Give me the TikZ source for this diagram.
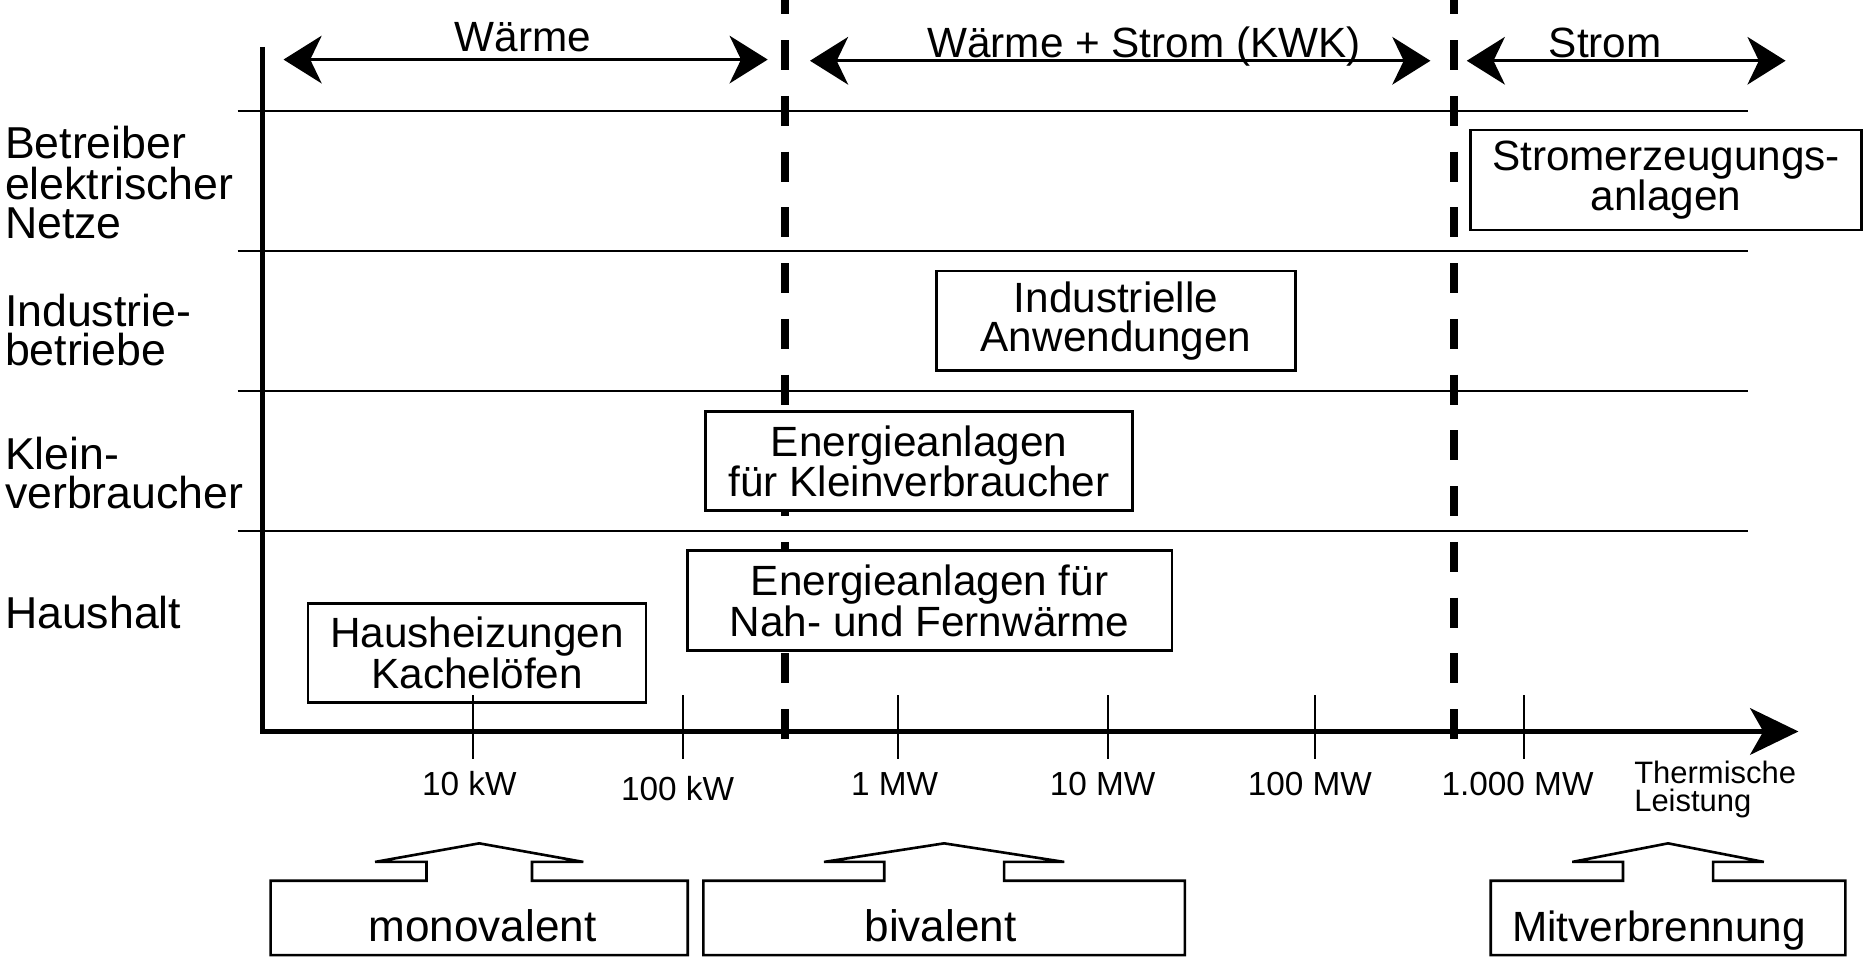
\documentclass[tikz,border=0pt]{standalone}
\usepackage{fontspec}
\setmainfont{Liberation Sans}
\usetikzlibrary{arrows.meta,calc}
\newcommand\drawcallout[3]{%
  \draw[calloutline] (#1.south west) -- (#1.north west)
    -- ($(#1.north)+(-#2,0)$) -- ($(#1.north)+(-#2,-15.8)$)
    -- ($(#1.north)+(-#3,-15.8)$) -- ($(#1.north)+(0,-31.4)$)
    -- ($(#1.north)+(#3,-15.8)$) -- ($(#1.north)+(#2,-15.8)$)
    -- ($(#1.north)+(#2,0)$) -- (#1.north east) -- (#1.south east) -- cycle;}
\begin{document}
\begin{tikzpicture}[x=1pt,y=-1pt,
  every node/.style={inner sep=0pt, outer sep=0pt},
  rowlabel/.style={anchor=base west, font=\fontsize{37.5}{33.5}\selectfont},
  toplabel/.style={anchor=base, font=\fontsize{35.5}{33}\selectfont},
  ticklabel/.style={anchor=base, font=\fontsize{28}{30}\selectfont},
  axislabel/.style={anchor=base west, font=\fontsize{26}{24}\selectfont},
  catbox/.style={draw, fill=white, line width=2.2pt, align=center, font=\fontsize{35.5}{32.5}\selectfont},
  bottomframe/.style={minimum height=62.4pt},
  bottomtext/.style={anchor=base, font=\fontsize{37}{36}\selectfont},
  calloutline/.style={line width=2.2pt, line join=miter},
  rowline/.style={line width=1.8pt},
  tickline/.style={line width=1.8pt},
  axisline/.style={line width=4.2pt, line join=miter, -{Stealth[length=40.5pt,width=39pt,inset=11pt]}},
  rangearrow/.style={line width=2.3pt, {Stealth[length=32pt,width=40pt,inset=9.6pt]}-{Stealth[length=32pt,width=40pt,inset=9.6pt]}},
  limitline/.style={line width=6.8pt, dash pattern=on 25.2pt off 21.6pt},
]
\useasboundingbox (0,0) rectangle (1568,803);

% row separators
\foreach \n/\y in {1/93.2,2/210.6,3/328.4,4/445.5}{
  \coordinate (r\n w) at (199.5,\y);
  \coordinate (r\n e) at (1466.9,\y);
  \draw[rowline] (r\n w) -- (r\n e);
}

% category boundaries
\coordinate (d1t) at (659,-13.2);   \coordinate (d1b) at (659,624);
\coordinate (d2t) at (1220.5,-13.2); \coordinate (d2b) at (1220.5,624);
\draw[limitline] (d1t) -- (d1b);
\draw[limitline] (d2t) -- (d2b);

% axes
\coordinate (ytop) at (220.5,39.3);
\coordinate (origin) at (220.5,614);
\coordinate (xend) at (1509.6,614);
\draw[axisline] (ytop) -- (origin) -- (xend);

% top ranges
\coordinate (a1l) at (238,50);    \coordinate (a1r) at (644.4,50);
\coordinate (a2l) at (679.9,51);  \coordinate (a2r) at (1200.7,51);
\coordinate (a3l) at (1231.2,51); \coordinate (a3r) at (1498.8,51);
\draw[rangearrow] (a1l) -- (a1r);
\draw[rangearrow] (a2l) -- (a2r);
\draw[rangearrow] (a3l) -- (a3r);
\node[toplabel] (lwaerme) at (438.8,43.4) {Wärme};
\node[toplabel] (lkwk) at (960.3,48.3) {Wärme + Strom (KWK)};
\node[toplabel] (lstrom) at (1347.5,48.3) {Strom};

% row labels
\node[rowlabel] (la1) at (4.2,132.7) {Betreiber};
\node[rowlabel] (la2) at (4.2,167.1) {elektrischer};
\node[rowlabel] (la3) at (4.2,199.8) {Netze};
\node[rowlabel] (lb1) at (4.2,274.2) {Industrie-};
\node[rowlabel] (lb2) at (4.2,306.4) {betriebe};
\node[rowlabel] (lc1) at (4.2,394.5) {Klein-};
\node[rowlabel] (lc2) at (4.2,426.7) {verbraucher};
\node[rowlabel] (ld1) at (4.2,527.4) {Haushalt};

% category boxes
\node[catbox, minimum width=328.5pt, minimum height=84pt] (strom) at (1398.45,151.1) {Stromerzeugungs-\\anlagen};
\node[catbox, minimum width=301.5pt, minimum height=83.7pt] (indu) at (936.75,269.35) {Industrielle\\Anwendungen};
\node[catbox, minimum width=358pt, minimum height=83.1pt] (klein) at (771.4,387.15) {Energieanlagen\\für Kleinverbraucher};
\node[catbox, minimum width=406.7pt, minimum height=83.9pt] (nah) at (780.35,504.25) {Energieanlagen für\\Nah- und Fernwärme};
\node[catbox, minimum width=283.8pt, minimum height=83.4pt] (haus) at (400.5,548.2) {Hausheizungen\\Kachelöfen};

% ticks
\foreach \n/\x in {1/397.3,2/573.6,3/753.6,4/930.2,5/1103.5,6/1279.3}{
  \coordinate (t\n a) at (\x,583.4);
  \coordinate (t\n b) at (\x,637.4);
  \draw[tickline] (t\n a) -- (t\n b);
}
\node[ticklabel] (k1) at (394,667.4) {10 kW};
\node[ticklabel] (k2) at (568.8,671.6) {100 kW};
\node[ticklabel] (k3) at (751,667.4) {1 MW};
\node[ticklabel] (k4) at (925.5,667.4) {10 MW};
\node[ticklabel] (k5) at (1099.5,667.4) {100 MW};
\node[ticklabel] (k6) at (1273.8,667.4) {1.000 MW};
\node[axislabel] (th1) at (1371.8,657.6) {Thermische};
\node[axislabel] (th2) at (1371.8,681.3) {Leistung};

% bottom callouts
\node[bottomframe, minimum width=350.1pt] (mono) at (402.25,770.5) {};
\node[bottomframe, minimum width=404.2pt] (biv) at (792.5,770.5) {};
\node[bottomframe, minimum width=297.7pt] (mitv) at (1400.15,770.5) {};
\drawcallout{mono}{44.3}{87.4}
\drawcallout{biv}{50.3}{100.8}
\drawcallout{mitv}{37.8}{80.4}
\node[bottomtext] (monot) at (405,790.5) {monovalent};
\node[bottomtext] (bivt) at (789.5,790.5) {bivalent};
\node[bottomtext, font=\fontsize{35.5}{36}\selectfont] (mitvt) at (1392.5,790.5) {Mitverbrennung};
\end{tikzpicture}
\end{document}
